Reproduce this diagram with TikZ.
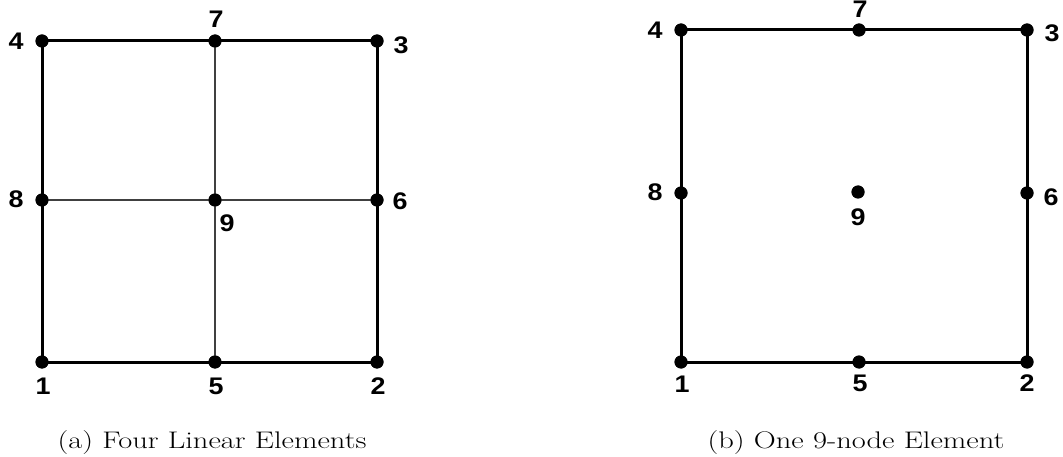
\documentclass[tikz,border=0pt]{standalone}
\usepackage{fontspec}
\newfontfamily\lblfont{Liberation Sans}
\begin{document}
\begin{tikzpicture}[x=1pt,y=-1pt,
  dot/.style={circle,fill=black,inner sep=0pt,minimum size=13pt},
  lbl/.style={font=\lblfont\bfseries\fontsize{24}{24}\selectfont,inner sep=0pt,xscale=1.12},
  captext/.style={font=\fontsize{24}{26}\selectfont,inner sep=0pt,xscale=1.27},
  outer/.style={line width=3pt},
  inner/.style={line width=1.8pt,black!75}]
\useasboundingbox (0,0) rectangle (1063,457);
% left element
\node[dot] (a4) at (42,41) {};
\node[dot] (a7) at (215,41) {};
\node[dot] (a3) at (377,41) {};
\node[dot] (a8) at (42,200) {};
\node[dot] (a9) at (215,200) {};
\node[dot] (a6) at (377,200) {};
\node[dot] (a1) at (42,362) {};
\node[dot] (a5) at (215,362) {};
\node[dot] (a2) at (377,362) {};
\draw[inner] (a7.center) -- (a9.center) -- (a5.center);
\draw[inner] (a8.center) -- (a9.center) -- (a6.center);
\draw[outer] (a4.center) -- (a7.center) -- (a3.center) -- (a6.center) -- (a2.center) -- (a5.center) -- (a1.center) -- (a8.center) -- cycle;
\foreach \n in {a1,a2,a3,a4,a5,a6,a7,a8,a9} \node[dot] at (\n) {};
\node[lbl] (la4) at (16,41) {4};
\node[lbl] (la7) at (216,19) {7};
\node[lbl] (la3) at (401,45) {3};
\node[lbl] (la8) at (16,199) {8};
\node[lbl] (la9) at (227,223) {9};
\node[lbl] (la6) at (400,201) {6};
\node[lbl] (la1) at (43,386) {1};
\node[lbl] (la5) at (216,386) {5};
\node[lbl] (la2) at (378,386) {2};
\node[captext,anchor=base] (capa) at (212,448) {(a) Four Linear Elements};
% right element
\node[dot] (b4) at (681,30) {};
\node[dot] (b7) at (859,30) {};
\node[dot] (b3) at (1027,30) {};
\node[dot] (b8) at (681,193) {};
\node[dot] (b9) at (858,192) {};
\node[dot] (b6) at (1027,193) {};
\node[dot] (b1) at (681,362) {};
\node[dot] (b5) at (859,362) {};
\node[dot] (b2) at (1027,362) {};
\draw[outer] (b4.center) -- (b7.center) -- (b3.center) -- (b6.center) -- (b2.center) -- (b5.center) -- (b1.center) -- (b8.center) -- cycle;
\foreach \n in {b1,b2,b3,b4,b5,b6,b7,b8,b9} \node[dot] at (\n) {};
\node[lbl] (lb4) at (655,30) {4};
\node[lbl] (lb7) at (860,9) {7};
\node[lbl] (lb3) at (1052,33) {3};
\node[lbl] (lb8) at (655,192) {8};
\node[lbl] (lb9) at (858,217) {9};
\node[lbl] (lb6) at (1051,197) {6};
\node[lbl] (lb1) at (682,384) {1};
\node[lbl] (lb5) at (860,383) {5};
\node[lbl] (lb2) at (1027,383) {2};
\node[captext,anchor=base] (capb) at (856,448) {(b) One 9-node Element};
\end{tikzpicture}
\end{document}
